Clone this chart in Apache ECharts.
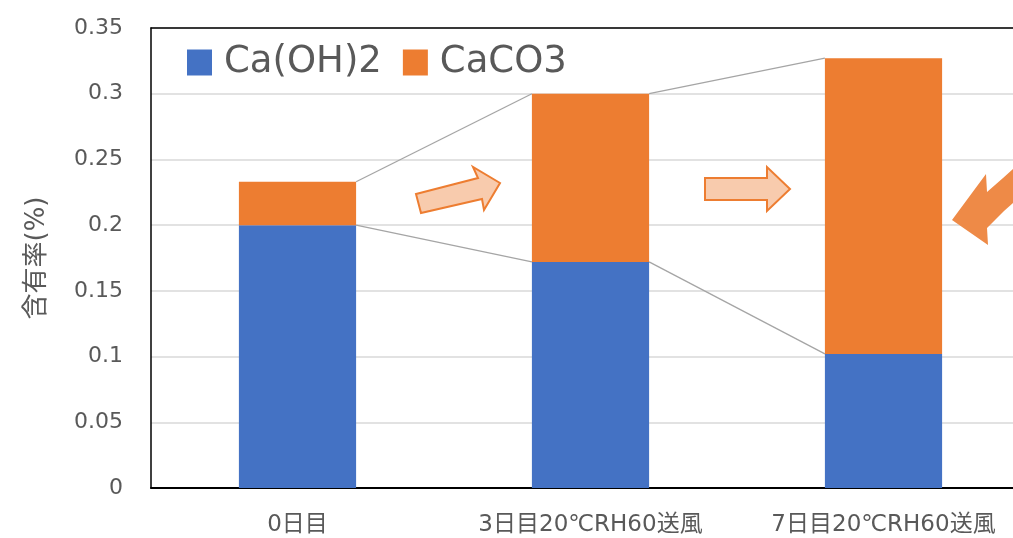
<!DOCTYPE html>
<html><head><meta charset="utf-8">
<script src="https://cdn.jsdelivr.net/npm/echarts@6/dist/echarts.min.js"></script>
<style>html,body{margin:0;padding:0;background:#fff}#c{width:1013px;height:538px}</style>
</head><body><div id="c"></div>
<script>
const categories = ['0日目', '3日目20℃RH60送風', '7日目20℃RH60送風'];
const caOH2 = [0.200, 0.172, 0.102];
const caCO3 = [0.033, 0.128, 0.225];
const yTicks = [0, 0.05, 0.1, 0.15, 0.2, 0.25, 0.3, 0.35];

const totals = caOH2.map((v, i) => +(v + caCO3[i]).toFixed(4));
const connectorData = [];
for (let i = 0; i < categories.length - 1; i++) {
  connectorData.push([i, caOH2[i], totals[i], caOH2[i + 1], totals[i + 1]]);
}
const font = '"DejaVu Sans", "Noto Sans CJK JP", sans-serif';
const txt = '#595959';

const chart = echarts.init(document.getElementById('c'));
chart.setOption({
  animation: false,
  grid: { left: 151, width: 879, top: 28, bottom: 50, outerBoundsMode: 'none', containLabel: false },
  legend: {
    left: 182, top: 39, itemWidth: 25, itemHeight: 26, itemGap: 21, icon: 'rect',
    textStyle: { fontSize: 37, color: txt, fontFamily: font, padding: [0, 0, 0, 7] },
    data: ['Ca(OH)2', 'CaCO3']
  },
  xAxis: [{
    type: 'category', data: categories,
    axisLine: { lineStyle: { color: '#000', width: 2 } },
    axisTick: { show: false },
    axisLabel: { fontSize: 23, color: txt, fontFamily: font, margin: 26 }
  }, {
    type: 'category', data: categories, position: 'top',
    axisLine: { show: true, lineStyle: { color: '#000', width: 1.5 } },
    axisTick: { show: false }, axisLabel: { show: false }, splitLine: { show: false }
  }],
  yAxis: {
    type: 'value', min: 0, max: 0.35, interval: 0.05,
    name: '含有率(%)', nameLocation: 'middle', nameGap: 101, nameRotate: 90,
    nameTextStyle: { fontSize: 26, color: txt, fontFamily: font },
    axisLine: { show: true, lineStyle: { color: '#000', width: 1.5 } },
    splitLine: { lineStyle: { color: '#D9D9D9', width: 1.5 } },
    axisLabel: { fontSize: 22, color: txt, fontFamily: font, margin: 28,
      formatter: v => { const t = yTicks.find(x => Math.abs(x - v) < 1e-9); return String(t !== undefined ? t : v); } }
  },
  series: [
    { name: 'Ca(OH)2', type: 'bar', stack: 's', data: caOH2, barWidth: '40%', itemStyle: { color: '#4472C4' } },
    { name: 'CaCO3', type: 'bar', stack: 's', data: caCO3, barWidth: '40%', itemStyle: { color: '#ED7D31' } },
    {
      type: 'custom', data: connectorData, z: 1, silent: true,
      encode: { x: 0, y: [1, 2, 3, 4] },
      renderItem: function (params, api) {
        const i = api.value(0);
        const band = api.size([1, 0])[0];
        const half = band * 0.4 / 2;
        const a1 = api.coord([i, api.value(1)]);
        const a2 = api.coord([i, api.value(2)]);
        const b1 = api.coord([i + 1, api.value(3)]);
        const b2 = api.coord([i + 1, api.value(4)]);
        const st = { stroke: '#A5A5A5', lineWidth: 1.3, fill: null };
        return { type: 'group', children: [
          { type: 'polyline', shape: { points: [[a1[0] + half, a1[1]], [b1[0] - half, b1[1]]] }, style: st },
          { type: 'polyline', shape: { points: [[a2[0] + half, a2[1]], [b2[0] - half, b2[1]]] }, style: st }
        ]};
      }
    }
  ],
  graphic: [
    { type: 'polygon', z: 100,
      shape: { points: [[416,194],[478,178],[473,167],[500,183],[484,210],[482,199],[421,213]] },
      style: { fill: '#F8CBAD', stroke: '#ED7D31', lineWidth: 2 } },
    { type: 'polygon', z: 100,
      shape: { points: [[705,178],[767,178],[767,167],[790,189],[767,211],[767,200],[705,200]] },
      style: { fill: '#F8CBAD', stroke: '#ED7D31', lineWidth: 2 } },
    { type: 'polygon', z: 100,
      shape: { points: [[952,220],[986,174],[987,192],[995,185],[1003,178],[1013,169],[1013,203],[1004,211],[996,219],[987,228],[988,245]] },
      style: { fill: '#EE8A47' } }
  ]
});
</script></body></html>
